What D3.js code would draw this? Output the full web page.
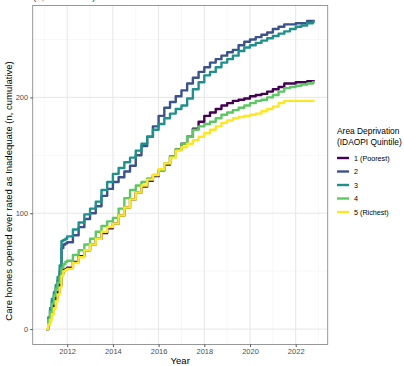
<!DOCTYPE html>
<html>
<head>
<meta charset="utf-8">
<script src="https://cdn.jsdelivr.net/npm/d3@7"></script>
<style>
  body { margin: 0; background: #fff; }
  text { font-family: "Liberation Sans", Arial, sans-serif; }
</style>
</head>
<body>
<script>
// decimal years (monthly in first year, then quarterly)
var years = [2011.08, 2011.17, 2011.25, 2011.33, 2011.42, 2011.5, 2011.58, 2011.67, 2011.75, 2011.83, 2011.92,
  2012, 2012.25, 2012.5, 2012.75, 2013, 2013.25, 2013.5, 2013.75, 2014, 2014.25, 2014.5, 2014.75,
  2015, 2015.25, 2015.5, 2015.75, 2016, 2016.25, 2016.5, 2016.75, 2017, 2017.25, 2017.5, 2017.75,
  2018, 2018.25, 2018.5, 2018.75, 2019, 2019.25, 2019.5, 2019.75, 2020, 2020.25, 2020.5, 2020.75,
  2021, 2021.25, 2021.5, 2021.75, 2022, 2022.25, 2022.5, 2022.75, 2022.83];

var q1 = [0, 6, 11, 16, 21, 27, 32, 38, 48, 51, 52,
  53, 58, 63, 68, 73, 78, 83, 87, 91, 98, 105, 112,
  118, 123, 128, 132, 137, 142, 149, 155, 160, 166, 173, 179,
  184, 187, 190, 193, 195, 197, 198, 199, 201, 202, 203, 205,
  207, 209, 212, 212, 213, 213, 214, 214, 214];
var q2 = [0, 9, 16, 24, 30, 36, 42, 50, 70, 73, 74,
  75, 81, 88, 95, 100, 106, 115, 121, 127, 131, 136, 141,
  150, 158, 166, 175, 184, 191, 196, 201, 206, 212, 217, 222,
  226, 230, 233, 236, 239, 241, 245, 248, 250, 252, 254, 256,
  259, 261, 263, 263, 264, 264, 266, 266, 266];
var q3 = [0, 10, 18, 26, 32, 38, 45, 55, 76, 77, 78,
  80, 86, 92, 99, 104, 110, 120, 127, 134, 139, 144, 148,
  154, 160, 166, 172, 177, 182, 186, 190, 193, 199, 207, 213,
  219, 222, 226, 230, 233, 236, 240, 243, 245, 247, 249, 251,
  253, 255, 257, 259, 261, 262, 264, 265, 265];
var q4 = [0, 8, 15, 22, 29, 35, 40, 45, 53, 56, 58,
  59, 64, 68, 73, 78, 84, 89, 93, 96, 104, 113, 120,
  124, 127, 130, 133, 137, 143, 149, 155, 160, 166, 172, 175,
  177, 179, 182, 185, 187, 189, 191, 193, 195, 197, 198, 200,
  202, 205, 208, 209, 210, 211, 212, 213, 213];
var q5 = [0, 4, 8, 13, 18, 24, 30, 36, 46, 50, 51,
  52, 57, 62, 68, 73, 78, 84, 88, 91, 98, 105, 112,
  118, 124, 129, 133, 138, 143, 148, 154, 157, 160, 163, 166,
  169, 172, 175, 178, 180, 182, 183, 184, 185, 186, 188, 190,
  192, 195, 197, 197, 197, 197, 197, 197, 197];

var quintiles = ["1 (Poorest)", "2", "3", "4", "5 (Richest)"];
var colours = ["#440154", "#3B528B", "#21908C", "#5DC863", "#FDE725"];
var xTicks = [2012, 2014, 2016, 2018, 2020, 2022];
var yTicks = [0, 100, 200];

var series = [q1, q2, q3, q4, q5].map(function (vals, i) {
  return { name: quintiles[i], values: vals.map(function (v, j) { return { year: years[j], n: v }; }) };
});

var W = 404, H = 366;
var panel = { left: 32.7, right: 327.7, top: 5.5, bottom: 344.5 };

var svg = d3.select('body').append('svg')
  .attr('width', W)
  .attr('height', H);

var x = d3.scaleLinear().domain([2010.49, 2023.4]).range([panel.left, panel.right]);
var y = d3.scaleLinear().domain([-13.3, 279.3]).range([panel.bottom, panel.top]);

// grid
var grid = svg.append('g');
d3.range(2011, 2024, 2).forEach(function (v) {
  grid.append('line').attr('x1', x(v)).attr('x2', x(v)).attr('y1', panel.top).attr('y2', panel.bottom)
    .attr('stroke', '#f2f2f2').attr('stroke-width', 0.6);
});
[50, 150, 250].forEach(function (v) {
  grid.append('line').attr('x1', panel.left).attr('x2', panel.right).attr('y1', y(v)).attr('y2', y(v))
    .attr('stroke', '#f2f2f2').attr('stroke-width', 0.6);
});
xTicks.forEach(function (v) {
  grid.append('line').attr('x1', x(v)).attr('x2', x(v)).attr('y1', panel.top).attr('y2', panel.bottom)
    .attr('stroke', '#e6e6e6').attr('stroke-width', 1);
});
yTicks.forEach(function (v) {
  grid.append('line').attr('x1', panel.left).attr('x2', panel.right).attr('y1', y(v)).attr('y2', y(v))
    .attr('stroke', '#e6e6e6').attr('stroke-width', 1);
});

// lines
var line = d3.line()
  .curve(d3.curveStepAfter)
  .x(function (d) { return x(d.year); })
  .y(function (d) { return y(d.n); });

svg.append('g').selectAll('path')
  .data(series)
  .enter()
  .append('path')
  .attr('d', function (d) { return line(d.values); })
  .attr('fill', 'none')
  .attr('stroke', function (d, i) { return colours[i]; })
  .attr('stroke-width', 2.4)
  .attr('stroke-linejoin', 'round');

// panel border
svg.append('rect')
  .attr('x', panel.left).attr('y', panel.top)
  .attr('width', panel.right - panel.left).attr('height', panel.bottom - panel.top)
  .attr('fill', 'none').attr('stroke', '#8c8c8c').attr('stroke-width', 0.9);

// axes
var xAxis = d3.axisBottom(x).tickValues(xTicks).tickSize(2.5).tickPadding(2).tickFormat(d3.format('d'));
var yAxis = d3.axisLeft(y).tickValues(yTicks).tickSize(2.5).tickPadding(2);

var gx = svg.append('g').attr('transform', 'translate(0,' + panel.bottom + ')').call(xAxis);
var gy = svg.append('g').attr('transform', 'translate(' + panel.left + ',0)').call(yAxis);
[gx, gy].forEach(function (g) {
  g.select('.domain').remove();
  g.selectAll('line').attr('stroke', '#555');
  g.selectAll('text').attr('fill', '#4d4d4d').style('font-size', '7.5px')
    .style('font-family', '"Liberation Sans", Arial, sans-serif');
});

svg.append('text')
  .attr('x', (panel.left + panel.right) / 2).attr('y', 364)
  .attr('text-anchor', 'middle').style('font-size', '9.5px')
  .text('Year');

svg.append('text')
  .attr('transform', 'translate(12,191) rotate(-90)')
  .attr('text-anchor', 'middle').style('font-size', '9.5px')
  .text('Care homes opened ever rated as Inadequate (n, cumulative)');

// cut-off subtitle at the very top
svg.append('text')
  .attr('x', 33).attr('y', 0)
  .style('font-size', '9.5px').attr('fill', '#333')
  .text('(n, cumulative)');

// legend
var legend = svg.append('g');
legend.append('text').attr('x', 337).attr('y', 134).style('font-size', '8.4px').text('Area Deprivation');
legend.append('text').attr('x', 337).attr('y', 145).style('font-size', '8.4px').text('(IDAOPI Quintile)');

var rows = legend.selectAll('.row')
  .data(quintiles)
  .enter()
  .append('g')
  .attr('class', 'row')
  .attr('transform', function (d, i) { return 'translate(0,' + (158 + i * 13.5) + ')'; });

rows.append('line')
  .attr('x1', 337).attr('x2', 349).attr('y1', 0).attr('y2', 0)
  .attr('stroke', function (d, i) { return colours[i]; })
  .attr('stroke-width', 2.4);

rows.append('text')
  .attr('x', 354).attr('y', 2.7)
  .style('font-size', '7.2px')
  .text(function (d) { return d; });
</script>
</body>
</html>
